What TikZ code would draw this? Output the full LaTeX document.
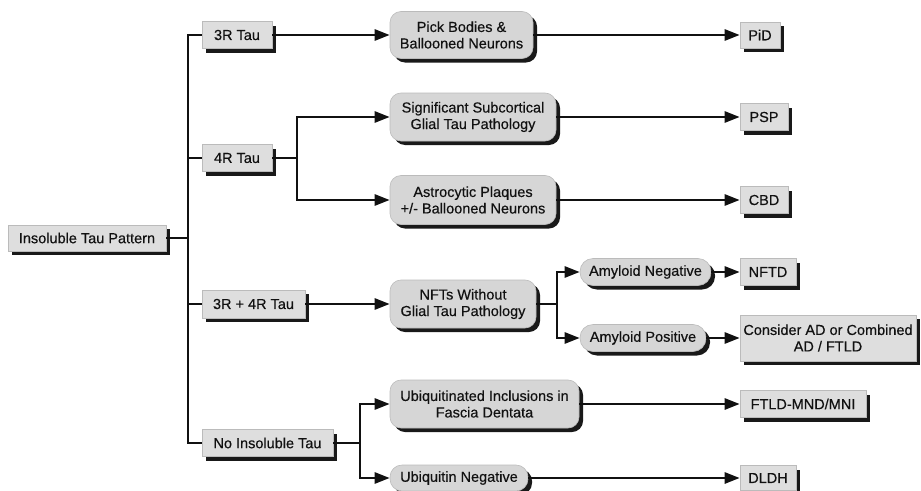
\documentclass[tikz,border=0pt]{standalone}
\usepackage{fontspec}
\setmainfont{Liberation Sans}[FakeBold=0.35]
\usetikzlibrary{arrows.meta,shadows,positioning}
\definecolor{boxfill}{HTML}{DEDEDE}
\definecolor{rboxfill}{HTML}{D6D6D6}
\definecolor{boxline}{HTML}{BBBBBB}
\definecolor{ink}{HTML}{111111}
\tikzset{
  base/.style={draw=boxline, line width=0.6pt, text=ink, align=center, inner sep=0pt,
    font=\fontsize{14.5}{16.5}\selectfont,
    drop shadow={shadow xshift=4pt, shadow yshift=-4pt, fill=black!90, opacity=1}},
  rbox/.style={base, fill=boxfill, rectangle},
  obox/.style={base, fill=rboxfill, rectangle, rounded corners=11pt},
  conn/.style={draw=ink, line width=2.7pt},
  arr/.style={conn, -{Triangle[length=15pt,width=11pt]}}
}
\begin{document}
\begin{tikzpicture}[x=1pt,y=-1pt]
\useasboundingbox (0,0) rectangle (921,490);
% left column
\node[rbox, minimum width=158pt, minimum height=26pt] (itp) at (87,238) {Insoluble Tau Pattern};
\node[rbox, minimum width=70pt, minimum height=27pt] (t3) at (237,35) {3R Tau};
\node[rbox, minimum width=70pt, minimum height=27pt] (t4) at (237,158) {4R Tau};
\node[rbox, minimum width=103pt, minimum height=28pt] (t34) at (253.5,304) {3R + 4R Tau};
\node[rbox, minimum width=131pt, minimum height=27pt] (tno) at (267.5,443) {No Insoluble Tau};
% middle column
\node[obox, minimum width=143pt, minimum height=47pt] (pick) at (461.5,35) {Pick Bodies \&\\Ballooned Neurons};
\node[obox, minimum width=166pt, minimum height=48pt] (sig) at (473,117) {Significant Subcortical\\Glial Tau Pathology};
\node[obox, minimum width=166pt, minimum height=49pt] (ast) at (473,200) {Astrocytic Plaques\\+/- Ballooned Neurons};
\node[obox, minimum width=146pt, minimum height=48pt] (nft) at (463,304) {NFTs Without\\Glial Tau Pathology};
\node[obox, minimum width=189pt, minimum height=48pt] (ubq) at (484.5,404) {Ubiquitinated Inclusions in\\Fascia Dentata};
\node[obox, minimum width=138pt, minimum height=26pt, rounded corners=12pt] (ubn) at (459,478) {Ubiquitin Negative};
\node[obox, minimum width=131pt, minimum height=27pt, rounded corners=13pt] (amn) at (645.5,272) {Amyloid Negative};
\node[obox, minimum width=126pt, minimum height=27pt, rounded corners=13pt] (amp) at (643,338) {Amyloid Positive};
% right column
\node[rbox, minimum width=40pt, minimum height=26pt] (pid) at (760,35) {PiD};
\node[rbox, minimum width=48pt, minimum height=27pt] (psp) at (764,117) {PSP};
\node[rbox, minimum width=48pt, minimum height=27pt] (cbd) at (764,200) {CBD};
\node[rbox, minimum width=56pt, minimum height=27pt] (nftd) at (768,272) {NFTD};
\node[rbox, minimum width=176pt, minimum height=46pt] (cad) at (828,338) {Consider AD or Combined\\AD / FTLD};
\node[rbox, minimum width=126pt, minimum height=27pt] (ftld) at (803,404) {FTLD-MND/MNI};
\node[rbox, minimum width=56pt, minimum height=25pt] (dldh) at (768,478) {DLDH};
% branch points
\coordinate (trunk) at (188,0);
\coordinate (b4) at (297,0);
\coordinate (bn) at (557,0);
\coordinate (bu) at (360,0);
% trunk
\draw[conn] (t3.west) -- (trunk |- t3) -- (trunk |- tno) -- (tno.west);
\draw[conn] (itp.east) -- (trunk |- itp);
\draw[conn] (t4.west) -- (trunk |- t4);
\draw[conn] (t34.west) -- (trunk |- t34);
% 3R
\draw[arr] (t3.east) -- (pick.west);
% 4R
\draw[conn] (t4.east) -- (b4 |- t4);
\draw[arr] (b4 |- t4) |- (sig.west);
\draw[arr] (b4 |- t4) |- (ast.west);
% 3R+4R
\draw[arr] (t34.east) -- (nft.west);
\draw[conn] (nft.east) -- (bn |- nft);
\draw[arr] (bn |- nft) |- (amn.west);
\draw[arr] (bn |- nft) |- (amp.west);
% no insoluble
\draw[conn] (tno.east) -- (bu |- tno);
\draw[arr] (bu |- tno) |- (ubq.west);
\draw[arr] (bu |- tno) |- (ubn.west);
% to diagnoses
\draw[arr] (pick.east) -- (pick.east -| pid.west);
\draw[arr] (sig.east) -- (sig.east -| psp.west);
\draw[arr] (ast.east) -- (ast.east -| cbd.west);
\draw[arr] (amn.east) -- (amn.east -| nftd.west);
\draw[arr] (amp.east) -- (amp.east -| cad.west);
\draw[arr] (ubq.east) -- (ubq.east -| ftld.west);
\draw[arr] (ubn.east) -- (ubn.east -| dldh.west);
\end{tikzpicture}
\end{document}
